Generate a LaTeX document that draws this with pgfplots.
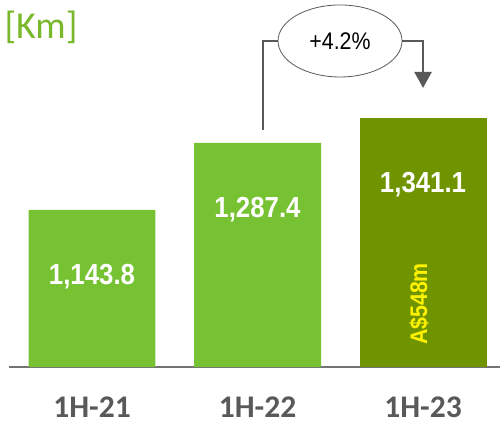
\documentclass[border=0pt]{standalone}
\usepackage{pgfplots}
\pgfplotsset{compat=1.18}
\usepackage{fontspec}
\setmainfont{Liberation Sans}
\newfontfamily\calibri{Carlito}
\newfontfamily\narrow[FakeStretch=0.89]{Liberation Sans}
\usetikzlibrary{shapes.geometric,arrows.meta}
\definecolor{lgreen}{HTML}{76C232}
\definecolor{dgreen}{HTML}{709400}
\definecolor{kmgreen}{HTML}{78B82A}
\definecolor{dgray}{HTML}{595959}
\begin{document}
\begin{tikzpicture}[x=1pt,y=1pt]
\useasboundingbox (-9,-57) rectangle (491,367);
\begin{axis}[
  scale only axis, width=491pt, height=367pt, at={(0,0)}, anchor=south west,
  xmin=-0.5015, xmax=2.465, ymin=807, ymax=1593.5,
  hide y axis, axis x line*=bottom,
  x axis line style={draw=gray!90!black, line width=1.5pt, -},
  xtick={0,1,2}, xticklabels={1H-21,1H-22,1H-23},
  major tick length=0pt, ytick=\empty,
  xticklabel style={anchor=base, yshift=-50pt, font=\calibri\bfseries\fontsize{31.5}{31.5}\selectfont, text=dgray},
  nodes near coords, point meta=explicit symbolic,
  every node near coord/.append style={anchor=center, yshift=-67pt, text=white, font=\narrow\bfseries\fontsize{29}{29}\selectfont},
]
\addplot[ybar, bar width=0.767, bar shift=0pt, fill=lgreen, draw=none] coordinates {(0,1143.8)[1,143.8] (1,1287.4)[1,287.4]};
\addplot[ybar, bar width=0.767, bar shift=0pt, fill=dgreen, draw=none] coordinates {(2,1341.1)[1,341.1]};
\node[rotate=90, text=yellow, font=\narrow\bfseries\fontsize{24}{24}\selectfont] at (axis cs:1.976,942) {A\$548m};
\node[ellipse, draw=dgray, line width=0.8pt, minimum width=124pt, minimum height=72pt, inner sep=0pt, font=\narrow\fontsize{24}{24}\selectfont] (e) at (axis cs:1.4985,1505.7) {+4.2\%};
\draw[dgray, line width=2.5pt] (axis cs:1.033,1315) |- (e.west);
\draw[dgray, line width=2.5pt, -{Triangle[width=17pt,length=16pt]}] (e.east) -| (axis cs:2,1405);
\end{axis}
\node[anchor=base west, text=kmgreen, font=\calibri\fontsize{38}{38}\selectfont] at (-8,329) {[Km]};
\end{tikzpicture}
\end{document}
